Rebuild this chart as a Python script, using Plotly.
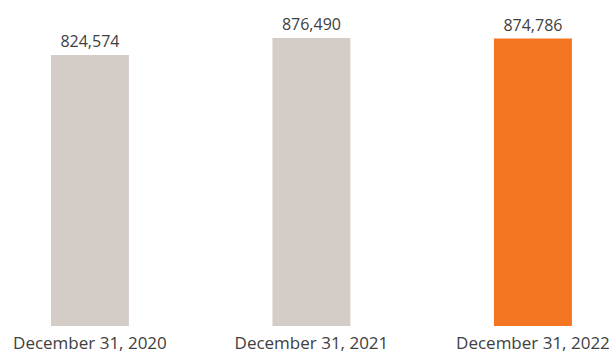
import plotly.graph_objects as go

# Year-end totals
categories = ["December 31, 2020", "December 31, 2021", "December 31, 2022"]
values = [824574, 876490, 874786]
bar_colors = ["#d3ccc7", "#d3ccc7", "#f47521"]

TEXT_COLOR = "#404040"
FONT = "Open Sans"

fig = go.Figure(
    go.Bar(
        x=categories,
        y=values,
        marker=dict(color=bar_colors, line=dict(width=0)),
        texttemplate="%{y:,}",
        textposition="outside",
        textfont=dict(family=FONT, size=16, color=TEXT_COLOR),
        cliponaxis=False,
        hoverinfo="skip",
    )
)

fig.update_layout(
    width=616,
    height=354,
    margin=dict(l=0, r=0, t=0, b=28),
    paper_bgcolor="white",
    plot_bgcolor="white",
    bargap=0.648,
    showlegend=False,
    xaxis=dict(
        type="category",
        range=[-0.406, 2.375],
        showgrid=False,
        showline=False,
        zeroline=False,
        ticks="",
        ticklabelstandoff=5,
        tickfont=dict(family=FONT, size=17, color=TEXT_COLOR),
        automargin=False,
    ),
    yaxis=dict(
        range=[0, 992138],
        visible=False,
        showgrid=False,
        zeroline=False,
    ),
)

fig.write_html("out.html")
